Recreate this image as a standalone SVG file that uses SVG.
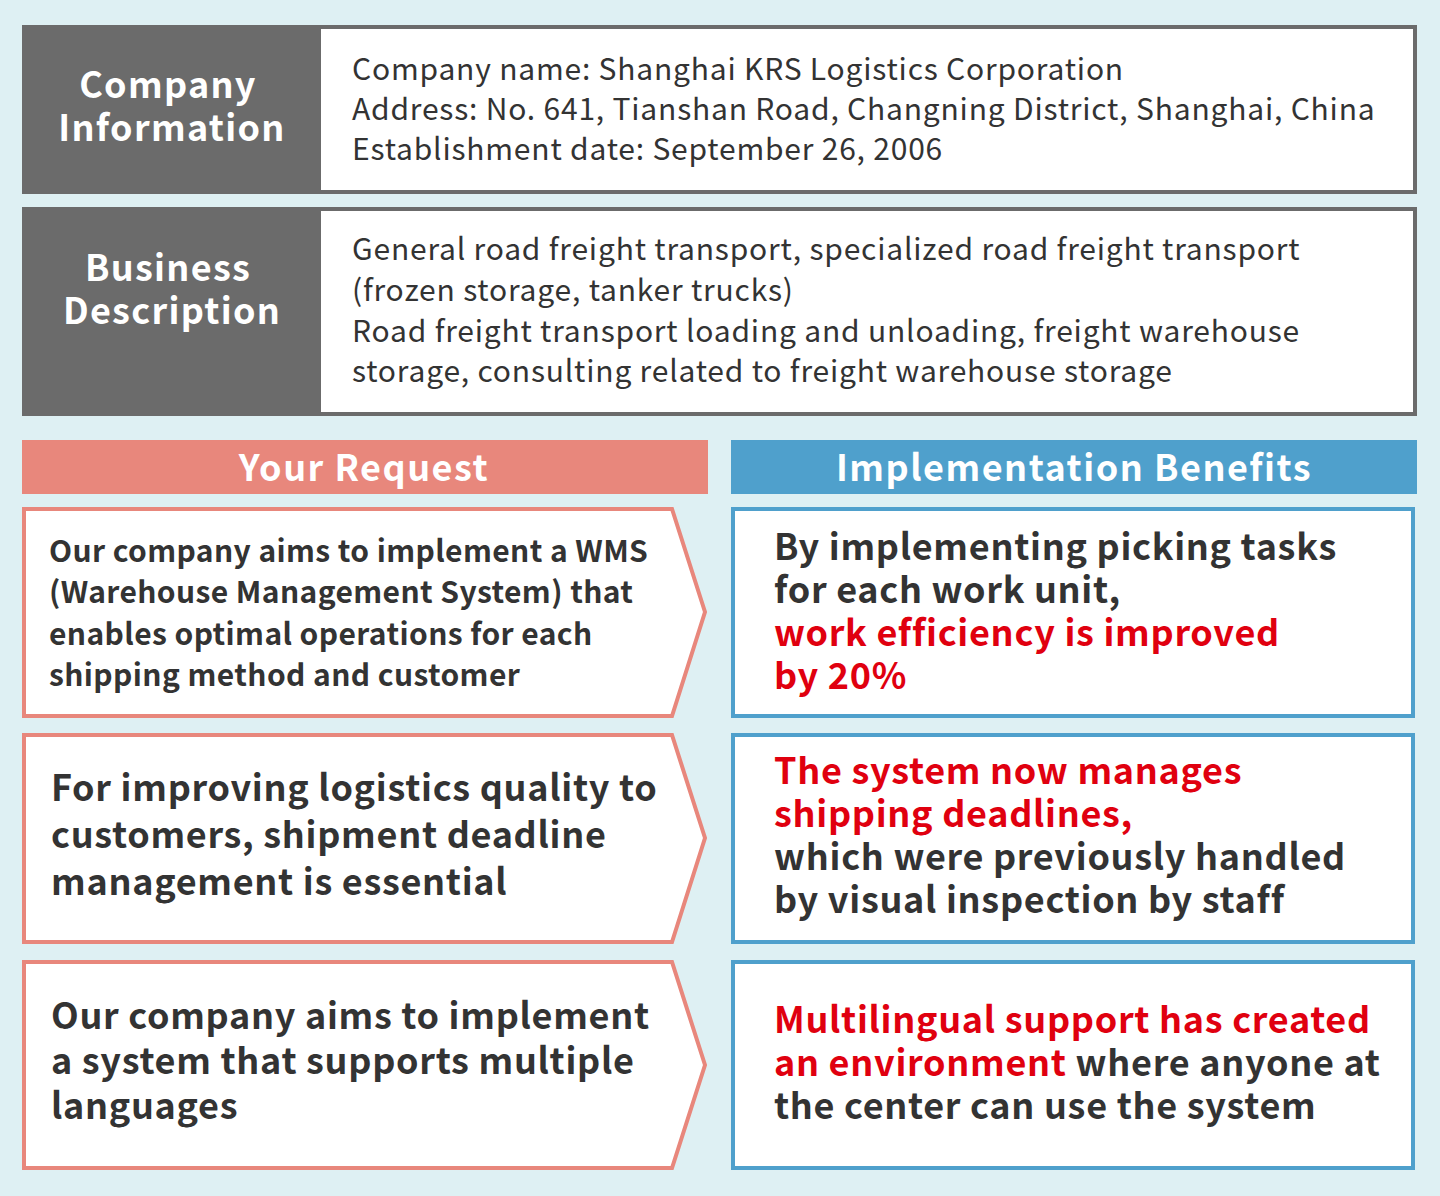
<svg xmlns="http://www.w3.org/2000/svg" width="1440" height="1196" viewBox="0 0 1440 1196">
<style>
text{font-family:"Noto Sans CJK JP","Noto Sans",sans-serif;fill:#333}
.lab{fill:#fff;font-weight:bold;font-size:36px;text-anchor:middle;letter-spacing:1.3px}
.info{font-size:30px;letter-spacing:0.8px}
.hd{fill:#fff;font-weight:bold;font-size:36px;text-anchor:middle;letter-spacing:1.5px}
.b{font-weight:bold;font-size:36px;letter-spacing:0.7px}
.s{font-weight:bold;font-size:30px;letter-spacing:0.4px}
.r{fill:#e0000f}
.req{fill:#fff;stroke:#e8877c;stroke-width:4}
.ben{fill:#fff;stroke:#4fa0cc;stroke-width:4}
.card{fill:#fff;stroke:#6b6b6b;stroke-width:4}
</style>
<rect width="1440" height="1196" fill="#def0f3"/>
<g id="company">
<rect class="card" x="24" y="27" width="1391" height="165"/>
<rect x="22" y="25" width="299" height="169" fill="#6b6b6b"/>
<text class="lab" x="168" y="98">Company</text>
<text class="lab" x="172" y="141">Information</text>
<text class="info" x="352" y="80">Company name: Shanghai KRS Logistics Corporation</text>
<text class="info" x="352" y="120">Address: No. 641, Tianshan Road, Changning District, Shanghai, China</text>
<text class="info" x="352" y="160">Establishment date: September 26, 2006</text>
</g>
<g id="business">
<rect class="card" x="24" y="209" width="1391" height="205"/>
<rect x="22" y="207" width="299" height="209" fill="#6b6b6b"/>
<text class="lab" x="168" y="281">Business</text>
<text class="lab" x="172" y="324">Description</text>
<text class="info" x="352" y="260">General road freight transport, specialized road freight transport</text>
<text class="info" x="352" y="301">(frozen storage, tanker trucks)</text>
<text class="info" x="352" y="342">Road freight transport loading and unloading, freight warehouse</text>
<text class="info" x="352" y="382">storage, consulting related to freight warehouse storage</text>
</g>
<g id="hdr-request"><rect x="22" y="440" width="686" height="54" fill="#e8877c"/><text class="hd" x="364" y="481">Your Request</text></g>
<g id="hdr-benefits"><rect x="731" y="440" width="686" height="54" fill="#4fa0cc"/><text class="hd" x="1074" y="481">Implementation Benefits</text></g>
<g id="req1"><polygon class="req" points="24,509 672,509 705,612 672,716 24,716"/>
<text class="s" x="49" y="562">Our company aims to implement a WMS</text>
<text class="s" x="49" y="603">(Warehouse Management System) that</text>
<text class="s" x="49" y="645">enables optimal operations for each</text>
<text class="s" x="49" y="686">shipping method and customer</text></g>
<g id="ben1"><rect class="ben" x="733" y="509" width="680" height="207"/>
<text class="b" x="774" y="560">By implementing picking tasks</text>
<text class="b" x="774" y="603">for each work unit,</text>
<text class="b r" x="774" y="646">work efficiency is improved</text>
<text class="b r" x="774" y="689">by 20%</text></g>
<g id="req2"><polygon class="req" points="24,735 672,735 705,838 672,942 24,942"/>
<text class="b" x="51" y="801">For improving logistics quality to</text>
<text class="b" x="51" y="848">customers, shipment deadline</text>
<text class="b" x="51" y="895">management is essential</text></g>
<g id="ben2"><rect class="ben" x="733" y="735" width="680" height="207"/>
<text class="b r" x="774" y="784">The system now manages</text>
<text class="b r" x="774" y="827">shipping deadlines,</text>
<text class="b" x="774" y="870">which were previously handled</text>
<text class="b" x="774" y="913">by visual inspection by staff</text></g>
<g id="req3"><polygon class="req" points="24,962 672,962 705,1065 672,1168 24,1168"/>
<text class="b" x="51" y="1029">Our company aims to implement</text>
<text class="b" x="51" y="1074">a system that supports multiple</text>
<text class="b" x="51" y="1119">languages</text></g>
<g id="ben3"><rect class="ben" x="733" y="962" width="680" height="206"/>
<text class="b r" x="774" y="1033">Multilingual support has created</text>
<text class="b" x="774" y="1076"><tspan fill="#e0000f">an environment</tspan> where anyone at</text>
<text class="b" x="774" y="1119">the center can use the system</text></g>
<g id="connectors"/>
</svg>
